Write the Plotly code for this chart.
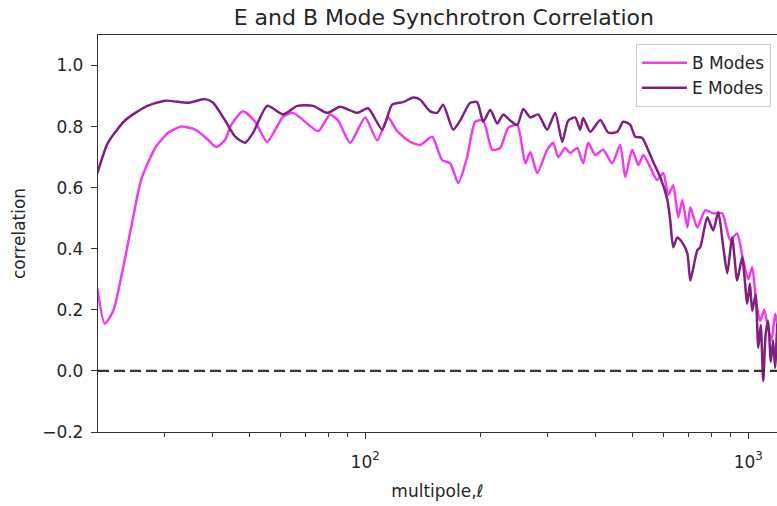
import plotly.graph_objects as go

ell_b = [20, 20.9, 22.0, 24.5, 26.0, 28.3, 30.6, 33.1, 36.0, 38.9,
         40.8, 43.1, 44.7, 48.0, 51.6, 55.5, 61.1, 64.9, 75.4, 81.0,
         85.0, 91.4, 100, 107.5, 114.8, 121.2, 131.1, 139.2, 149.6, 158.9,
         166.7, 175.0, 184.6, 193.7, 203.3, 214.6, 225.2, 236.2, 249.5, 261.8,
         269.8, 281.3, 298.5, 309.7, 319.2, 332.7, 342.9, 357.7, 370.7, 382.2,
         398.6, 417.9, 441.4, 463.2, 477.3, 497.7, 516.4, 532.2, 554.6, 578.1,
         599.8, 618.2, 637.0, 656.4, 672.9, 693.4, 706, 736, 772, 810,
         855, 897, 935, 970, 1000, 1024, 1050, 1074, 1100, 1121,
         1150, 1176, 1195]
corr_b = [0.27, 0.155, 0.197, 0.47, 0.625, 0.73, 0.78, 0.80, 0.79, 0.757,
          0.733, 0.757, 0.806, 0.85, 0.816, 0.75, 0.833, 0.845, 0.785, 0.84,
          0.82, 0.747, 0.83, 0.755, 0.83, 0.785, 0.75, 0.74, 0.767, 0.69,
          0.68, 0.615, 0.70, 0.816, 0.82, 0.724, 0.73, 0.796, 0.806, 0.68,
          0.717, 0.648, 0.724, 0.747, 0.70, 0.73, 0.714, 0.73, 0.68, 0.747,
          0.707, 0.724, 0.68, 0.74, 0.635, 0.724, 0.674, 0.707, 0.668, 0.625,
          0.648, 0.576, 0.608, 0.503, 0.56, 0.47, 0.536, 0.47, 0.526, 0.516,
          0.516, 0.428, 0.45, 0.362, 0.30, 0.34, 0.22, 0.164, 0.20, 0.155,
          0.10, 0.187, 0.14]

ell_e = [20, 21.3, 23.6, 26.7, 30.1, 34.5, 38.2, 40.1, 43.1, 45.8,
         48.6, 51.0, 55.5, 61.1, 66.5, 73.1, 79.6, 86.0, 95.3, 101.8,
         110.8, 117.6, 125.6, 133.4, 139.2, 147.8, 154.2, 159.8, 169.7, 177.0,
         188.0, 196.1, 203.3, 212.1, 221.2, 229.3, 239.1, 249.5, 258.6, 269.8,
         283.0, 298.5, 313.4, 326.9, 338.9, 353.4, 364.1, 370.7, 386.9, 410.9,
         431.1, 455, 471.7, 491.9, 507, 528.9, 545, 564.9, 589, 615,
         625.6, 637, 652.6, 672.9, 693.4, 706, 736, 749.5, 781.6, 810,
         835.2, 860.6, 881.4, 907.9, 935.6, 964, 993.6, 1010, 1024, 1045,
         1062, 1078, 1094, 1110, 1127, 1145, 1161, 1175, 1190]
corr_e = [0.648, 0.747, 0.82, 0.865, 0.885, 0.878, 0.89, 0.878, 0.82, 0.767,
          0.747, 0.78, 0.868, 0.84, 0.868, 0.868, 0.845, 0.865, 0.845, 0.86,
          0.79, 0.872, 0.88, 0.895, 0.888, 0.85, 0.845, 0.872, 0.79, 0.82,
          0.878, 0.88, 0.816, 0.855, 0.81, 0.84, 0.82, 0.805, 0.858, 0.83,
          0.84, 0.79, 0.845, 0.75, 0.82, 0.83, 0.79, 0.828, 0.783, 0.822,
          0.78, 0.783, 0.816, 0.806, 0.767, 0.763, 0.73, 0.684, 0.635, 0.56,
          0.493, 0.405, 0.437, 0.42, 0.385, 0.296, 0.395, 0.405, 0.503, 0.46,
          0.52, 0.405, 0.32, 0.437, 0.296, 0.372, 0.22, 0.286, 0.197, 0.25,
          0.076, 0.15, -0.033, 0.12, 0.164, 0.03, 0.10, 0.01, 0.155]

y_ticks = [-0.2, 0.0, 0.2, 0.4, 0.6, 0.8, 1.0]
y_labels = ["\u22120.2", "0.0", "0.2", "0.4", "0.6", "0.8", "1.0"]
x_ticks = [100, 1000]
x_labels = ["10<sup>2</sup>", "10<sup>3</sup>"]
x_minor = [30, 40, 50, 60, 70, 80, 90, 200, 300, 400, 500, 600, 700, 800, 900]

FONT = "DejaVu Sans"
TXT = "#262626"

fig = go.Figure()
fig.add_trace(go.Scatter(x=ell_b, y=corr_b, mode="lines", name="B Modes",
                         line=dict(color="#ef3cef", width=2.5, shape="spline", smoothing=0.6)))
fig.add_trace(go.Scatter(x=ell_e, y=corr_e, mode="lines", name="E Modes",
                         line=dict(color="#7f1f7f", width=2.5, shape="spline", smoothing=0.6)))

fig.add_shape(type="line", xref="paper", yref="y", x0=0, x1=1, y0=0, y1=0,
              line=dict(color="#333333", width=2.2, dash="11px,5px"))

fig.update_layout(
    width=777, height=506,
    margin=dict(l=98, r=0, t=35, b=74),
    paper_bgcolor="white", plot_bgcolor="white",
    font=dict(family=FONT, size=17, color=TXT),
    title=dict(text="E and B Mode Synchrotron Correlation", x=0.5712, xanchor="center",
               y=0.966, yanchor="middle", font=dict(size=22, family=FONT, color=TXT)),
    showlegend=True,
    legend=dict(x=0.991, xanchor="right", y=0.977, yanchor="top",
                bordercolor="#cccccc", borderwidth=1, bgcolor="rgba(255,255,255,0.8)",
                font=dict(size=17, family=FONT, color=TXT), tracegroupgap=4,
                itemwidth=45),
    xaxis=dict(type="log", range=[1.3026, 3.075], showgrid=False, zeroline=False,
               showline=True, linecolor="#333333", linewidth=1.3, mirror=True,
               ticks="outside", ticklen=6, tickwidth=1.2, tickcolor="#333333",
               tickvals=x_ticks, ticktext=x_labels, ticklabelstandoff=8,
               minor=dict(ticks="outside", ticklen=3.5, tickwidth=1, tickcolor="#333333",
                          tickvals=x_minor, showgrid=False),
               title=dict(text="multipole,<i>\u2113</i>", standoff=14, font=dict(size=17))),
    yaxis=dict(range=[-0.2, 1.1], showgrid=False, zeroline=False,
               showline=True, linecolor="#333333", linewidth=1.3, mirror=False,
               ticks="outside", ticklen=6, tickwidth=1.2, tickcolor="#333333",
               tickvals=y_ticks, ticktext=y_labels, ticklabelstandoff=4,
               title=dict(text="correlation", standoff=12, font=dict(size=17))),
)

fig.write_html("out.html")
